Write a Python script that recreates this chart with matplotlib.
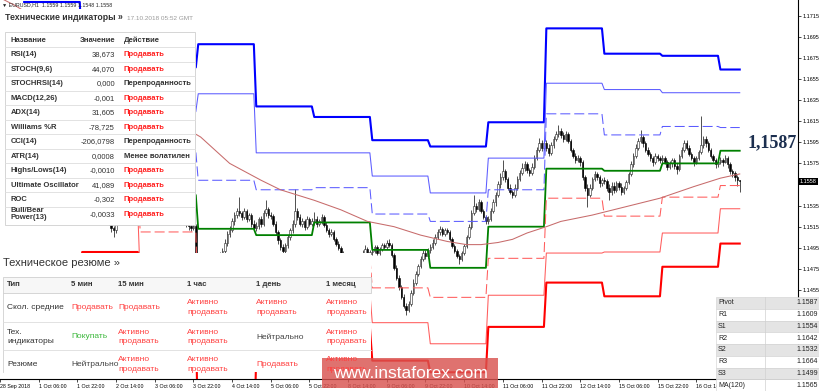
import numpy as np
import pandas as pd
import matplotlib
matplotlib.use('Agg')
import matplotlib.pyplot as plt
from matplotlib.patches import Rectangle

plt.rcParams['font.family'] = ['Liberation Sans', 'DejaVu Sans']

# hourly EURUSD bars, weekends skipped (server time)
times = pd.date_range('2018-09-28 14:00', '2018-10-17 08:00', freq='h')
times = times[times.dayofweek < 5]

first_open = 1.1603
closes = [
    # 28 Sep
    1.1605, 1.1610, 1.1602, 1.1598, 1.1604, 1.1608, 1.1603, 1.1600, 1.1604, 1.1605,
    # 1 Oct
    1.1606, 1.1612, 1.1618, 1.1622, 1.1615, 1.1605, 1.1600, 1.1596, 1.1590, 1.1585, 1.1580, 1.1574,
    1.1570, 1.1568, 1.1572, 1.1575, 1.1580, 1.1578, 1.1574, 1.1578, 1.1576, 1.1580, 1.1578, 1.1577,
    # 2 Oct
    1.1578, 1.1582, 1.1575, 1.1568, 1.1560, 1.1552, 1.1545, 1.1540, 1.1535, 1.1530, 1.1524, 1.1520,
    1.1514, 1.1512, 1.1520, 1.1528, 1.1535, 1.1540, 1.1545, 1.1542, 1.1546, 1.1550, 1.1548, 1.1547,
    # 3 Oct
    1.1548, 1.1555, 1.1562, 1.1570, 1.1578, 1.1585, 1.1590, 1.1586, 1.1580, 1.1574, 1.1568, 1.1560,
    1.1552, 1.1545, 1.1538, 1.1532, 1.1528, 1.1524, 1.1520, 1.1518, 1.1516, 1.1514, 1.1516, 1.1478,
    # 4 Oct
    1.1478, 1.1475, 1.1470, 1.1466, 1.1470, 1.1474, 1.1478, 1.1482, 1.1486, 1.1489, 1.1492, 1.1500,
    1.1508, 1.1512, 1.1520, 1.1526, 1.1530, 1.1528, 1.1524, 1.1530, 1.1522, 1.1526, 1.1518, 1.1514,
    # 5 Oct
    1.1516, 1.1522, 1.1518, 1.1528, 1.1532, 1.1526, 1.1525, 1.1518, 1.1510, 1.1502, 1.1496, 1.1492,
    1.1498, 1.1505, 1.1512, 1.1518, 1.1530, 1.1524, 1.1518, 1.1520, 1.1515, 1.1522, 1.1518, 1.1520,
    # 8 Oct
    1.1522, 1.1518, 1.1520, 1.1524, 1.1517, 1.1512, 1.1508, 1.1510, 1.1503, 1.1499, 1.1495, 1.1490,
    1.1482, 1.1475, 1.1468, 1.1462, 1.1466, 1.1472, 1.1478, 1.1485, 1.1490, 1.1494, 1.1489, 1.1491,
    # 9 Oct
    1.1492, 1.1496, 1.1490, 1.1494, 1.1498, 1.1496, 1.1500, 1.1498, 1.1488, 1.1476, 1.1466, 1.1458,
    1.1448, 1.1440, 1.1436, 1.1442, 1.1452, 1.1462, 1.1470, 1.1478, 1.1484, 1.1490, 1.1487, 1.1493,
    # 10 Oct
    1.1496, 1.1500, 1.1505, 1.1510, 1.1513, 1.1508, 1.1512, 1.1510, 1.1503, 1.1497, 1.1492, 1.1487,
    1.1484, 1.1490, 1.1497, 1.1505, 1.1515, 1.1528, 1.1535, 1.1532, 1.1538, 1.1530, 1.1524, 1.1520,
    # 11 Oct
    1.1522, 1.1530, 1.1538, 1.1545, 1.1555, 1.1562, 1.1568, 1.1560, 1.1552, 1.1548, 1.1545, 1.1552,
    1.1560, 1.1566, 1.1571, 1.1574, 1.1569, 1.1566, 1.1572, 1.1580, 1.1588, 1.1594, 1.1590, 1.1594,
    # 12 Oct
    1.1590, 1.1585, 1.1592, 1.1598, 1.1603, 1.1606, 1.1602, 1.1598, 1.1603, 1.1596, 1.1588, 1.1582,
    1.1578, 1.1580, 1.1576, 1.1562, 1.1552, 1.1545, 1.1552, 1.1560, 1.1565, 1.1562, 1.1556, 1.1559,
    # 15 Oct
    1.1558, 1.1552, 1.1548, 1.1554, 1.1550, 1.1556, 1.1553, 1.1548, 1.1552, 1.1557, 1.1565, 1.1574,
    1.1582, 1.1590, 1.1596, 1.1600, 1.1594, 1.1588, 1.1584, 1.1580, 1.1576, 1.1582, 1.1580, 1.1578,
    # 16 Oct
    1.1580, 1.1576, 1.1572, 1.1575, 1.1578, 1.1573, 1.1570, 1.1582, 1.1588, 1.1594, 1.1590, 1.1584,
    1.1580, 1.1576, 1.1580, 1.1586, 1.1592, 1.1598, 1.1594, 1.1588, 1.1582, 1.1578, 1.1574, 1.1576,
    # 17 Oct
    1.1578, 1.1576, 1.1580, 1.1574, 1.1568, 1.1566, 1.1562, 1.1559, 1.1558,
]
highs = [
    1.1608, 1.1613, 1.1612, 1.1605, 1.1606, 1.1611, 1.1609, 1.1605, 1.1606, 1.1607,
    1.1609, 1.1614, 1.1620, 1.1625, 1.1624, 1.1617, 1.1608, 1.1603, 1.1598, 1.1593, 1.1587, 1.1582,
    1.1576, 1.1573, 1.1574, 1.1578, 1.1583, 1.1582, 1.1580, 1.1580, 1.1580, 1.1582, 1.1581, 1.1580,
    1.1580, 1.1584, 1.1583, 1.1577, 1.1570, 1.1562, 1.1555, 1.1547, 1.1542, 1.1537, 1.1532, 1.1526,
    1.1522, 1.1516, 1.1522, 1.1530, 1.1537, 1.1543, 1.1547, 1.1547, 1.1548, 1.1552, 1.1552, 1.1550,
    1.1551, 1.1557, 1.1565, 1.1572, 1.1580, 1.1588, 1.1595, 1.1592, 1.1588, 1.1582, 1.1576, 1.1570,
    1.1562, 1.1554, 1.1547, 1.1540, 1.1534, 1.1530, 1.1526, 1.1522, 1.1520, 1.1518, 1.1519, 1.1518,
    1.1482, 1.1480, 1.1478, 1.1473, 1.1472, 1.1476, 1.1480, 1.1484, 1.1488, 1.1491, 1.1495, 1.1503,
    1.1511, 1.1516, 1.1523, 1.1529, 1.1533, 1.1543, 1.1530, 1.1533, 1.1532, 1.1528, 1.1528, 1.1521,
    1.1519, 1.1524, 1.1525, 1.1531, 1.1540, 1.1534, 1.1529, 1.1527, 1.1520, 1.1512, 1.1504, 1.1499,
    1.1500, 1.1507, 1.1514, 1.1521, 1.1551, 1.1533, 1.1527, 1.1523, 1.1522, 1.1525, 1.1524, 1.1523,
    1.1529, 1.1525, 1.1522, 1.1527, 1.1526, 1.1519, 1.1514, 1.1513, 1.1512, 1.1505, 1.1501, 1.1497,
    1.1492, 1.1484, 1.1477, 1.1470, 1.1468, 1.1474, 1.1480, 1.1487, 1.1493, 1.1498, 1.1496, 1.1493,
    1.1494, 1.1498, 1.1498, 1.1496, 1.1500, 1.1500, 1.1502, 1.1503, 1.1500, 1.1490, 1.1479, 1.1469,
    1.1460, 1.1451, 1.1443, 1.1445, 1.1455, 1.1465, 1.1473, 1.1480, 1.1487, 1.1493, 1.1493, 1.1495,
    1.1499, 1.1503, 1.1508, 1.1513, 1.1516, 1.1515, 1.1514, 1.1514, 1.1512, 1.1505, 1.1499, 1.1494,
    1.1489, 1.1492, 1.1499, 1.1507, 1.1518, 1.1531, 1.1545, 1.1537, 1.1541, 1.1540, 1.1532, 1.1526,
    1.1525, 1.1533, 1.1541, 1.1548, 1.1558, 1.1566, 1.1578, 1.1570, 1.1562, 1.1555, 1.1550, 1.1555,
    1.1563, 1.1569, 1.1575, 1.1577, 1.1576, 1.1571, 1.1575, 1.1583, 1.1591, 1.1599, 1.1597, 1.1597,
    1.1597, 1.1593, 1.1595, 1.1601, 1.1606, 1.1611, 1.1609, 1.1605, 1.1606, 1.1605, 1.1598, 1.1590,
    1.1585, 1.1583, 1.1582, 1.1578, 1.1564, 1.1555, 1.1555, 1.1562, 1.1568, 1.1567, 1.1564, 1.1561,
    1.1562, 1.1560, 1.1555, 1.1557, 1.1557, 1.1558, 1.1558, 1.1556, 1.1554, 1.1559, 1.1567, 1.1577,
    1.1585, 1.1593, 1.1599, 1.1607, 1.1602, 1.1596, 1.1591, 1.1586, 1.1582, 1.1585, 1.1584, 1.1582,
    1.1583, 1.1582, 1.1578, 1.1577, 1.1580, 1.1580, 1.1575, 1.1584, 1.1591, 1.1597, 1.1597, 1.1592,
    1.1586, 1.1582, 1.1582, 1.1588, 1.1620, 1.1601, 1.1601, 1.1596, 1.1590, 1.1584, 1.1580, 1.1578,
    1.1581, 1.1580, 1.1583, 1.1582, 1.1576, 1.1570, 1.1568, 1.1564, 1.1559,
]
lows = [
    1.1600, 1.1603, 1.1600, 1.1595, 1.1596, 1.1602, 1.1601, 1.1598, 1.1598, 1.1602,
    1.1603, 1.1604, 1.1610, 1.1616, 1.1613, 1.1603, 1.1598, 1.1594, 1.1588, 1.1582, 1.1578, 1.1572,
    1.1567, 1.1565, 1.1566, 1.1570, 1.1573, 1.1576, 1.1572, 1.1572, 1.1574, 1.1575, 1.1576, 1.1575,
    1.1575, 1.1576, 1.1573, 1.1566, 1.1558, 1.1550, 1.1543, 1.1538, 1.1533, 1.1528, 1.1522, 1.1517,
    1.1510, 1.1505, 1.1509, 1.1518, 1.1526, 1.1533, 1.1538, 1.1540, 1.1540, 1.1544, 1.1546, 1.1545,
    1.1544, 1.1546, 1.1553, 1.1560, 1.1568, 1.1576, 1.1583, 1.1584, 1.1578, 1.1572, 1.1566, 1.1558,
    1.1550, 1.1543, 1.1536, 1.1530, 1.1526, 1.1522, 1.1518, 1.1515, 1.1512, 1.1511, 1.1512, 1.1468,
    1.1474, 1.1472, 1.1468, 1.1465, 1.1464, 1.1468, 1.1472, 1.1476, 1.1480, 1.1484, 1.1487, 1.1490,
    1.1497, 1.1505, 1.1510, 1.1517, 1.1523, 1.1525, 1.1521, 1.1522, 1.1519, 1.1520, 1.1515, 1.1511,
    1.1511, 1.1513, 1.1515, 1.1516, 1.1525, 1.1523, 1.1522, 1.1516, 1.1507, 1.1499, 1.1493, 1.1485,
    1.1489, 1.1495, 1.1502, 1.1509, 1.1515, 1.1521, 1.1516, 1.1515, 1.1512, 1.1513, 1.1516, 1.1516,
    1.1517, 1.1515, 1.1516, 1.1518, 1.1515, 1.1510, 1.1505, 1.1506, 1.1501, 1.1497, 1.1493, 1.1487,
    1.1480, 1.1473, 1.1465, 1.1460, 1.1461, 1.1464, 1.1470, 1.1476, 1.1483, 1.1487, 1.1486, 1.1487,
    1.1488, 1.1490, 1.1488, 1.1488, 1.1492, 1.1494, 1.1494, 1.1496, 1.1486, 1.1474, 1.1464, 1.1455,
    1.1446, 1.1438, 1.1431, 1.1434, 1.1440, 1.1450, 1.1460, 1.1468, 1.1476, 1.1482, 1.1484, 1.1485,
    1.1490, 1.1494, 1.1498, 1.1503, 1.1507, 1.1506, 1.1506, 1.1508, 1.1501, 1.1495, 1.1490, 1.1485,
    1.1480, 1.1482, 1.1488, 1.1495, 1.1503, 1.1513, 1.1526, 1.1529, 1.1530, 1.1528, 1.1522, 1.1518,
    1.1518, 1.1520, 1.1528, 1.1535, 1.1543, 1.1552, 1.1559, 1.1557, 1.1550, 1.1546, 1.1542, 1.1543,
    1.1550, 1.1558, 1.1564, 1.1568, 1.1566, 1.1563, 1.1564, 1.1570, 1.1578, 1.1586, 1.1587, 1.1588,
    1.1587, 1.1582, 1.1583, 1.1590, 1.1596, 1.1600, 1.1599, 1.1595, 1.1596, 1.1594, 1.1586, 1.1580,
    1.1575, 1.1576, 1.1573, 1.1559, 1.1549, 1.1534, 1.1543, 1.1550, 1.1558, 1.1559, 1.1553, 1.1554,
    1.1555, 1.1549, 1.1540, 1.1545, 1.1547, 1.1548, 1.1550, 1.1545, 1.1546, 1.1550, 1.1555, 1.1563,
    1.1572, 1.1580, 1.1588, 1.1594, 1.1591, 1.1586, 1.1582, 1.1577, 1.1573, 1.1574, 1.1577, 1.1575,
    1.1575, 1.1574, 1.1569, 1.1570, 1.1572, 1.1570, 1.1565, 1.1568, 1.1580, 1.1586, 1.1588, 1.1582,
    1.1578, 1.1573, 1.1574, 1.1578, 1.1584, 1.1590, 1.1591, 1.1586, 1.1580, 1.1576, 1.1571, 1.1572,
    1.1574, 1.1573, 1.1575, 1.1571, 1.1565, 1.1562, 1.1558, 1.1554, 1.1548,
]

# daily pivot levels
pivot_days = ['2018-10-01', '2018-10-02', '2018-10-03', '2018-10-04', '2018-10-05',
              '2018-10-08', '2018-10-09', '2018-10-10', '2018-10-11', '2018-10-12',
              '2018-10-15', '2018-10-16', '2018-10-17']
r3 = [1.1728, 1.1673, 1.1666, 1.1688, 1.1629, 1.1619, 1.1597, 1.1591, 1.1614, 1.1703, 1.1679, 1.1677, 1.1664]
r2 = [1.1691, 1.1649, 1.1624, 1.1641, 1.1585, 1.1585, 1.1563, 1.1547, 1.1580, 1.1651, 1.1645, 1.1642, 1.1642]
r1 = [1.1652, 1.1613, 1.1586, 1.1559, 1.1550, 1.1552, 1.1527, 1.1520, 1.1550, 1.1622, 1.1602, 1.1610, 1.1609]
pp = [1.1615, 1.1589, 1.1545, 1.1513, 1.1507, 1.1519, 1.1493, 1.1476, 1.1515, 1.1570, 1.1568, 1.1575, 1.1587]
s1 = [1.1576, 1.1553, 1.1510, 1.1432, 1.1472, 1.1486, 1.1457, 1.1448, 1.1485, 1.1542, 1.1525, 1.1543, 1.1554]
s2 = [1.1540, 1.1529, 1.1466, 1.1386, 1.1429, 1.1453, 1.1424, 1.1404, 1.1450, 1.1490, 1.1491, 1.1509, 1.1532]
s3 = [1.1458, 1.1491, 1.1428, 1.1305, 1.1393, 1.1420, 1.1388, 1.1377, 1.1420, 1.1462, 1.1449, 1.1477, 1.1499]

# MA(120) read at a few bars
ma_idx = [0, 6, 16, 31, 46, 61, 71, 83, 95, 108, 116, 130, 141, 152, 163, 174, 185, 193,
          199, 206, 212, 218, 226, 232, 245, 259, 273, 287, 298, 306]
ma_vals = [1.1732, 1.1725, 1.1711, 1.1683, 1.1654, 1.1630, 1.1616, 1.1600, 1.1575, 1.1559,
           1.1550, 1.1540, 1.1531, 1.1520, 1.1515, 1.1507, 1.1501, 1.1498, 1.1498, 1.1500,
           1.1503, 1.1509, 1.1515, 1.1520, 1.1526, 1.1534, 1.1542, 1.1553, 1.1561, 1.1565]

# price scale labels visible on the right (1.1555 sits under the price box)
y_ticks = [1.1455 + 0.002 * k for k in range(14)]

# overlay tables
ind_names = ['RSI(14)', 'STOCH(9,6)', 'STOCHRSI(14)', 'MACD(12,26)', 'ADX(14)', 'Williams %R',
             'CCI(14)', 'ATR(14)', 'Highs/Lows(14)', 'Ultimate Oscillator', 'ROC', 'Bull/Bear\nPower(13)']
ind_values = ['38,673', '44,070', '0,000', '-0,001', '31,605', '-78,725', '-206,0798', '0,0008',
              '-0,0010', '41,089', '-0,302', '-0,0033']
ind_actions = ['Продавать', 'Продавать', 'Перепроданность', 'Продавать', 'Продавать', 'Продавать',
               'Перепроданность', 'Менее волатилен', 'Продавать', 'Продавать', 'Продавать', 'Продавать']

sum_cols = ['Тип', '5 мин', '15 мин', '1 час', '1 день', '1 месяц']
sum_rows = ['Скол. средние', 'Тех.\nиндикаторы', 'Резюме']
sum_cells = [['Продавать', 'Продавать', 'Активно\nпродавать', 'Активно\nпродавать', 'Активно\nпродавать'],
             ['Покупать', 'Активно\nпродавать', 'Активно\nпродавать', 'Нейтрально', 'Активно\nпродавать'],
             ['Нейтрально', 'Активно\nпродавать', 'Активно\nпродавать', 'Продавать', 'Активно\nпродавать']]

piv_names = ['Pivot', 'R1', 'S1', 'R2', 'S2', 'R3', 'S3', 'MA(120)']
piv_values = ['1.1587', '1.1609', '1.1554', '1.1642', '1.1532', '1.1664', '1.1499', '1.1565']


fig = plt.figure(figsize=(8.2, 3.91), dpi=100)
ax = fig.add_axes([0, 12 / 391, 798 / 820, 379 / 391])

n = len(times)
idx = np.arange(n)
c = np.array(closes)
o = np.r_[first_open, c[:-1]]
up = c >= o
body = np.where(np.abs(c - o) < 0.00004, 0.00004, c - o)

ax.vlines(idx, lows, highs, color='#333333', lw=0.6, zorder=2)
ax.bar(idx[up], body[up], bottom=o[up], width=0.6, color='white',
       edgecolor='#222222', lw=0.4, zorder=3)
ax.bar(idx[~up], body[~up], bottom=o[~up], width=0.6, color='black',
       edgecolor='black', lw=0.4, zorder=3)

# pivot lines, one flat piece per day
day_of = times.normalize()


def level_path(values):
    xs, ys = [], []
    for d, v in zip(pivot_days, values):
        sel = np.flatnonzero(day_of == pd.Timestamp(d))
        xs += [sel[0], sel[-1]]
        ys += [v, v]
    return xs, ys


dash = (0, (9.6, 3.8))
styles = [(r3, '#0000ff', 1.5, '-'), (r2, '#5c5cff', 0.75, '-'), (r1, '#5c5cff', 0.75, dash),
          (pp, '#008000', 1.3, '-'), (s1, '#ff5c5c', 0.75, dash), (s2, '#ff5c5c', 0.75, '-'),
          (s3, '#ff0000', 1.5, '-')]
for vals, col, lw, ls in styles:
    xs, ys = level_path(vals)
    ax.plot(xs, ys, color=col, lw=lw, ls=ls, zorder=4)

ax.plot(ma_idx, ma_vals, color='#c76b6b', lw=0.75, zorder=4)

ax.set_xlim(0.3, 330.1)
ax.set_ylim(1.13706, 1.17299)
for s in ['top', 'left']:
    ax.spines[s].set_visible(False)
for s in ['bottom', 'right']:
    ax.spines[s].set_linewidth(0.8)

ax.yaxis.tick_right()
ax.set_yticks(y_ticks)
ax.set_yticklabels(['' if abs(v - 1.1555) < 1e-6 else f'{v:.4f}' for v in y_ticks])
ax.tick_params(axis='y', labelsize=4, length=2, width=0.5, pad=1.5)

# time labels every 16 bars; the last one falls under the pivot table
tick_pos = list(range(0, n - 16, 16))
tick_lab = ['28 Sep 2018'] + [f'{times[i].day} {times[i]:%b %H:%M}' for i in tick_pos[1:]]
ax.set_xticks(tick_pos)
ax.set_xticklabels(tick_lab, ha='left')
ax.tick_params(axis='x', labelsize=3.8, length=2, width=0.5, pad=1.5)

ax.text(1.002, c[-1], f'{c[-1]:.4f}', transform=ax.get_yaxis_transform(), fontsize=4,
        color='white', va='center', ha='left', clip_on=False, zorder=10,
        bbox=dict(boxstyle='square,pad=0.2', fc='black', ec='none'))

# overlay in pixel coordinates
ov = fig.add_axes([0, 0, 1, 1], zorder=5)
ov.set_xlim(0, 820)
ov.set_ylim(391, 0)
ov.axis('off')

ov.text(2, 4.5, f'▼ EURUSD,H1  {o[-1]:.4f} {highs[-1]:.4f} {lows[-1]:.4f} {c[-1]:.4f}',
        fontsize=3.8, va='center', color='#222222')

# technical indicators panel
ov.add_patch(Rectangle((0, 9), 196, 216, facecolor='white', edgecolor='none'))
ov.text(5, 18, 'Технические индикаторы »', fontsize=6.3, fontweight='bold', color='#333333', va='center')
ov.text(127, 18, '17.10.2018 05:52 GMT', fontsize=4.6, color='#9a9a9a', va='center')
ov.add_patch(Rectangle((5, 32), 190, 193, facecolor='white', edgecolor='#cfcfcf', lw=0.6))
ov.text(11, 40, 'Название', fontsize=5.5, fontweight='bold', color='#333333', va='center')
ov.text(115, 40, 'Значение', fontsize=5.5, fontweight='bold', color='#333333', va='center', ha='right')
ov.text(124, 40, 'Действие', fontsize=5.5, fontweight='bold', color='#333333', va='center')
for k, (nm, val, act) in enumerate(zip(ind_names, ind_values, ind_actions)):
    y = 54.7 + 14.5 * k
    ov.plot([5, 195], [y - 7.25, y - 7.25], color='#dddddd', lw=0.6)
    ov.text(11, y, nm, fontsize=5.5, fontweight='bold', color='#333333', va='center', linespacing=1.0)
    ov.text(115, y, val, fontsize=5.5, color='#333333', va='center', ha='right')
    ov.text(124, y, act, fontsize=5.5, fontweight='bold', va='center',
            color='#ff2020' if act == 'Продавать' else '#333333')

# technical summary panel
ov.add_patch(Rectangle((0, 253), 371, 119, facecolor='white', edgecolor='none'))
ov.text(3, 263.5, 'Техническое резюме »', fontsize=8, color='#333333', va='center')
ov.add_patch(Rectangle((3, 277), 368, 16, facecolor='#f7f7f7', edgecolor='#d0d0d0', lw=0.6))
col_x = [7, 71, 118, 187, 256, 326]
for x, h in zip(col_x, sum_cols):
    ov.text(x, 285, h, fontsize=5.6, fontweight='bold', color='#333333', va='center')
ov.plot([3, 3], [293, 372], color='#d0d0d0', lw=0.6)
for y in [321.7, 350]:
    ov.plot([3, 371], [y, y], color='#dddddd', lw=0.6)
cell_col = {'Покупать': '#3cb83c', 'Нейтрально': '#444444'}
for y, rname, cells in zip([307.5, 337, 364.5], sum_rows, sum_cells):
    ov.text(7, y, rname, fontsize=6, color='#333333', va='center', linespacing=1.55)
    for x, txt in zip(col_x[1:], cells):
        ov.text(x, y, txt, fontsize=6, va='center', linespacing=1.55,
                color=cell_col.get(txt, '#ff4040'))

# pivot table
for k, (nm, val) in enumerate(zip(piv_names, piv_values)):
    top = 297 + 11.75 * k
    ov.add_patch(Rectangle((716, top), 104, 11.75, lw=0.4, edgecolor='#d0d0d0',
                           facecolor='#e4e4e4' if k % 2 == 0 else 'white'))
    ov.text(718, top + 5.9, nm, fontsize=5, va='center', color='#222222')
    ov.text(818, top + 5.9, val, fontsize=5, va='center', ha='right', color='#222222')
ov.plot([765, 765], [297, 391], color='#d0d0d0', lw=0.5)

ov.text(797, 143, piv_values[0].replace('.', ','), fontsize=13, fontweight='bold',
        family='Liberation Serif', color='#1c2f4f', ha='right', va='center')

# watermark
ov.add_patch(Rectangle((322, 358), 176, 30, facecolor='#d9534f', alpha=0.82, edgecolor='none'))
ov.text(410, 373, 'www.instaforex.com', fontsize=12.5, color='white', ha='center', va='center')

fig.savefig('out.png', dpi=100)
